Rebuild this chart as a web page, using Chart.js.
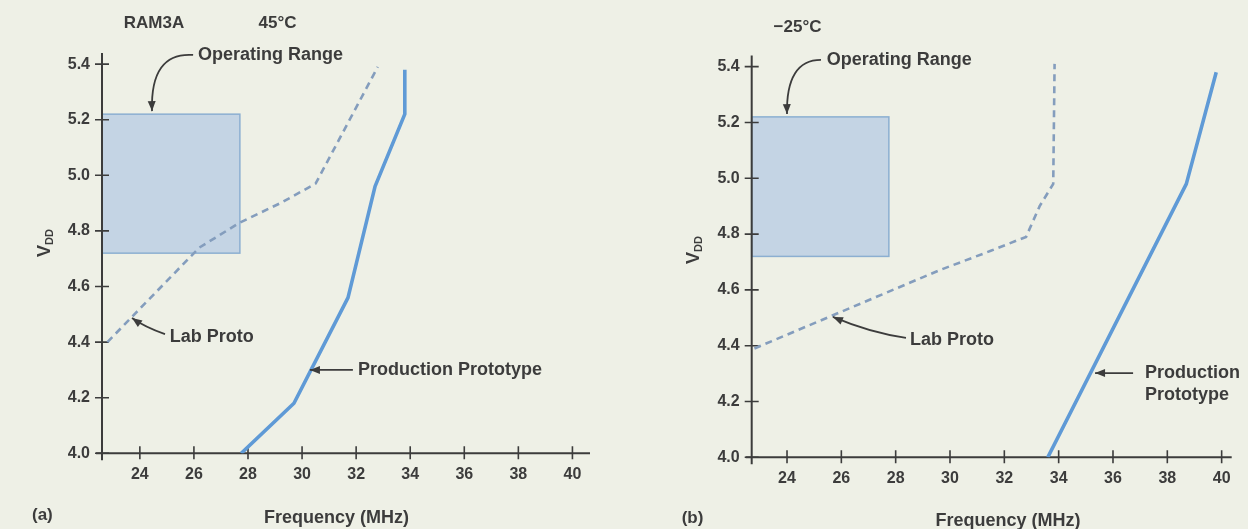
<!DOCTYPE html>
<html>
<head>
<meta charset="utf-8">
<script src="https://cdn.jsdelivr.net/npm/chart.js@4.4.1/dist/chart.umd.min.js"></script>
<style>
  html, body { margin: 0; padding: 0; background: #eef0e6; }
  #wrap { position: relative; width: 1248px; height: 529px; overflow: hidden; }
  .panel { position: absolute; top: 0; width: 624px; height: 529px; }
  #pa { left: 0; }
  #pb { left: 624px; }
  canvas { display: block; }
</style>
</head>
<body>
<div id="wrap">
  <div class="panel" id="pa"><canvas id="ca" width="624" height="529"></canvas></div>
  <div class="panel" id="pb"><canvas id="cb" width="624" height="529"></canvas></div>
</div>
<script>
// Axis ticks shared by both panels
const freqTicks = [24, 26, 28, 30, 32, 34, 36, 38, 40];
const vddTicks = [4.0, 4.2, 4.4, 4.6, 4.8, 5.0, 5.2, 5.4];

// Operating range (supply voltage band and frequency span)
const opVdd = [4.72, 5.22];
const opFreqA = [22.6, 27.7];
const opFreqB = [22.7, 27.75];

// (a) RAM3A at 45°C
const labFreqA  = [22.8, 26.2, 27.7, 29.2, 30.5, 32.8];
const labVddA   = [4.40, 4.74, 4.83, 4.90, 4.97, 5.39];
const prodFreqA = [27.75, 29.7, 31.7, 32.7, 33.8, 33.8];
const prodVddA  = [4.00, 4.18, 4.56, 4.96, 5.22, 5.38];

// (b) RAM3A at -25°C
const labFreqB  = [22.8, 29.6, 31.5, 32.8, 33.3, 33.8, 33.85];
const labVddB   = [4.39, 4.67, 4.74, 4.79, 4.90, 4.98, 5.41];
const prodFreqB = [33.6, 38.7, 39.8];
const prodVddB  = [4.00, 4.98, 5.38];

const FONT = "'Liberation Sans', Arial, sans-serif";
const INK = '#3c3c3c';

function pts(fs, vs) { return fs.map((f, i) => ({ x: f, y: vs[i] })); }

function drawArrow(ctx, s, c, t) {
  ctx.beginPath();
  ctx.moveTo(s.x, s.y);
  ctx.quadraticCurveTo(c.x, c.y, t.x, t.y);
  ctx.stroke();
  const a = Math.atan2(t.y - c.y, t.x - c.x);
  const L = 10, W = 4;
  ctx.beginPath();
  ctx.moveTo(t.x, t.y);
  ctx.lineTo(t.x - L * Math.cos(a) + W * Math.sin(a), t.y - L * Math.sin(a) - W * Math.cos(a));
  ctx.lineTo(t.x - L * Math.cos(a) - W * Math.sin(a), t.y - L * Math.sin(a) + W * Math.cos(a));
  ctx.closePath();
  ctx.fill();
}

// Draws the operating-range box, the cross-tick axes and all annotations
const paper = {
  id: 'paper',
  beforeDatasetsDraw(chart, args, o) {
    const ctx = chart.ctx, xs = chart.scales.x, ys = chart.scales.y;
    const ca = chart.chartArea;
    ctx.save();
    // operating range box
    const x0 = xs.getPixelForValue(o.opFreq[0]), x1 = xs.getPixelForValue(o.opFreq[1]);
    const y0 = ys.getPixelForValue(opVdd[1]), y1 = ys.getPixelForValue(opVdd[0]);
    ctx.fillStyle = '#c4d4e4';
    ctx.fillRect(x0, y0, x1 - x0, y1 - y0);
    ctx.strokeStyle = '#8cafd1';
    ctx.lineWidth = 1.5;
    ctx.strokeRect(x0, y0, x1 - x0, y1 - y0);
    // axes
    const left = ca.left, top = ca.top, right = ca.right, bottom = ys.getPixelForValue(ys.min);
    ctx.strokeStyle = INK;
    ctx.lineWidth = 2;
    ctx.beginPath();
    ctx.moveTo(left, top); ctx.lineTo(left, bottom + 7);
    ctx.moveTo(left - 6, bottom); ctx.lineTo(right, bottom);
    ctx.stroke();
    ctx.lineWidth = 1.6;
    ctx.beginPath();
    for (const v of vddTicks) {
      const y = ys.getPixelForValue(v);
      ctx.moveTo(left - 7, y); ctx.lineTo(left + 7, y);
    }
    for (const f of freqTicks) {
      const x = xs.getPixelForValue(f);
      ctx.moveTo(x, bottom - 7); ctx.lineTo(x, bottom + 6);
    }
    ctx.stroke();
    ctx.restore();
  },
  afterDraw(chart, args, o) {
    const ctx = chart.ctx, xs = chart.scales.x, ys = chart.scales.y;
    const P = (f, v) => ({ x: xs.getPixelForValue(f), y: ys.getPixelForValue(v) });
    ctx.save();
    ctx.fillStyle = INK;
    ctx.strokeStyle = INK;
    ctx.lineWidth = 1.8;
    ctx.textBaseline = 'middle';
    // titles, axis title and panel letters (canvas pixels)
    for (const t of o.texts) {
      ctx.textAlign = t.align || 'left';
      ctx.font = 'bold ' + (t.size || 17) + 'px ' + FONT;
      ctx.fillText(t.s, t.x, t.y);
    }
    // annotations anchored in data units
    ctx.font = 'bold 18px ' + FONT;
    ctx.textAlign = 'left';
    for (const n of o.notes) {
      n.lines.forEach((s, i) => {
        const p = P(n.at[0], n.at[1]);
        ctx.fillText(s, p.x, p.y + i * 22);
      });
      drawArrow(ctx, P(...n.arrow[0]), P(...n.arrow[1]), P(...n.arrow[2]));
    }
    // y-axis title V_DD
    ctx.translate(o.vdd[0], o.vdd[1]);
    ctx.rotate(-Math.PI / 2);
    ctx.textAlign = 'left';
    ctx.textBaseline = 'alphabetic';
    ctx.font = 'bold 18px ' + FONT;
    const wV = ctx.measureText('V').width;
    ctx.font = 'bold 11px ' + FONT;
    const wD = ctx.measureText('DD').width;
    const sx = -(wV + wD) / 2;
    ctx.font = 'bold 18px ' + FONT;
    ctx.fillText('V', sx, 6);
    ctx.font = 'bold 11px ' + FONT;
    ctx.fillText('DD', sx + wV, 9);
    ctx.restore();
  }
};

function makePanel(id, p) {
  return new Chart(document.getElementById(id), {
    type: 'line',
    data: {
      datasets: [
        {
          label: 'Lab Proto',
          data: pts(p.labF, p.labV),
          borderColor: '#849dbd',
          borderWidth: 2.6,
          borderDash: [7, 5],
          pointRadius: 0,
          tension: 0,
          fill: false
        },
        {
          label: 'Production Prototype',
          data: pts(p.prodF, p.prodV),
          borderColor: '#5f9ad6',
          borderWidth: 3.6,
          pointRadius: 0,
          tension: 0,
          fill: false,
          borderJoinStyle: 'round'
        }
      ]
    },
    options: {
      responsive: false,
      animation: false,
      events: [],
      layout: { padding: p.pad },
      plugins: {
        legend: { display: false },
        tooltip: { enabled: false },
        paper: p.paper
      },
      scales: {
        x: {
          type: 'linear',
          min: p.xMin, max: p.xMax,
          grid: { display: false, drawTicks: false },
          border: { display: false },
          afterBuildTicks: s => { s.ticks = freqTicks.map(v => ({ value: v })); },
          afterFit: s => { s.height = 30; },
          ticks: {
            padding: 12,
            color: INK,
            font: { family: FONT, size: 16, weight: 'bold' },
            callback: v => String(v)
          }
        },
        y: {
          type: 'linear',
          min: 4.0, max: 5.44,
          grid: { display: false, drawTicks: false },
          border: { display: false },
          afterBuildTicks: s => { s.ticks = vddTicks.map(v => ({ value: v })); },
          afterFit: s => { s.width = 50; },
          ticks: {
            padding: 12,
            color: INK,
            font: { family: FONT, size: 16, weight: 'bold' },
            callback: v => Number(v).toFixed(1)
          }
        }
      }
    },
    plugins: [paper]
  });
}

makePanel('ca', {
  labF: labFreqA, labV: labVddA, prodF: prodFreqA, prodV: prodVddA,
  xMin: 22.6, xMax: 40.65,
  pad: { left: 52, right: 34, top: 53, bottom: 45.7 },
  paper: {
    opFreq: opFreqA,
    vdd: [44, 243],
    texts: [
      { s: 'RAM3A', x: 154, y: 23, align: 'center' },
      { s: '45°C', x: 277.5, y: 23, align: 'center' },
      { s: '(a)', x: 32, y: 515 },
      { s: 'Frequency (MHz)', x: 336.5, y: 518, align: 'center', size: 18 }
    ],
    notes: [
      { lines: ['Operating Range'], at: [26.15, 5.433],
        arrow: [[25.97, 5.433], [24.38, 5.444], [24.45, 5.231]] },
      { lines: ['Lab Proto'], at: [25.11, 4.418],
        arrow: [[24.93, 4.429], [24.19, 4.454], [23.71, 4.487]] },
      { lines: ['Production Prototype'], at: [32.07, 4.30],
        arrow: [[31.88, 4.30], [31.03, 4.30], [30.29, 4.30]] }
    ]
  }
});

makePanel('cb', {
  labF: labFreqB, labV: labVddB, prodF: prodFreqB, prodV: prodVddB,
  xMin: 22.7, xMax: 40.37,
  pad: { left: 77.7, right: 16.3, top: 55.5, bottom: 41.7 },
  paper: {
    opFreq: opFreqB,
    vdd: [69, 250],
    texts: [
      { s: '\u221225°C', x: 173.5, y: 27, align: 'center' },
      { s: '(b)', x: 57.7, y: 518 },
      { s: 'Frequency (MHz)', x: 384, y: 521, align: 'center', size: 18 }
    ],
    notes: [
      { lines: ['Operating Range'], at: [25.46, 5.424],
        arrow: [[25.25, 5.424], [23.96, 5.424], [24.0, 5.230]] },
      { lines: ['Lab Proto'], at: [28.53, 4.420],
        arrow: [[28.38, 4.428], [27.06, 4.446], [25.69, 4.503]] },
      { lines: ['Production', 'Prototype'], at: [37.18, 4.302],
        arrow: [[36.74, 4.302], [36.0, 4.302], [35.34, 4.302]] }
    ]
  }
});
</script>
</body>
</html>
